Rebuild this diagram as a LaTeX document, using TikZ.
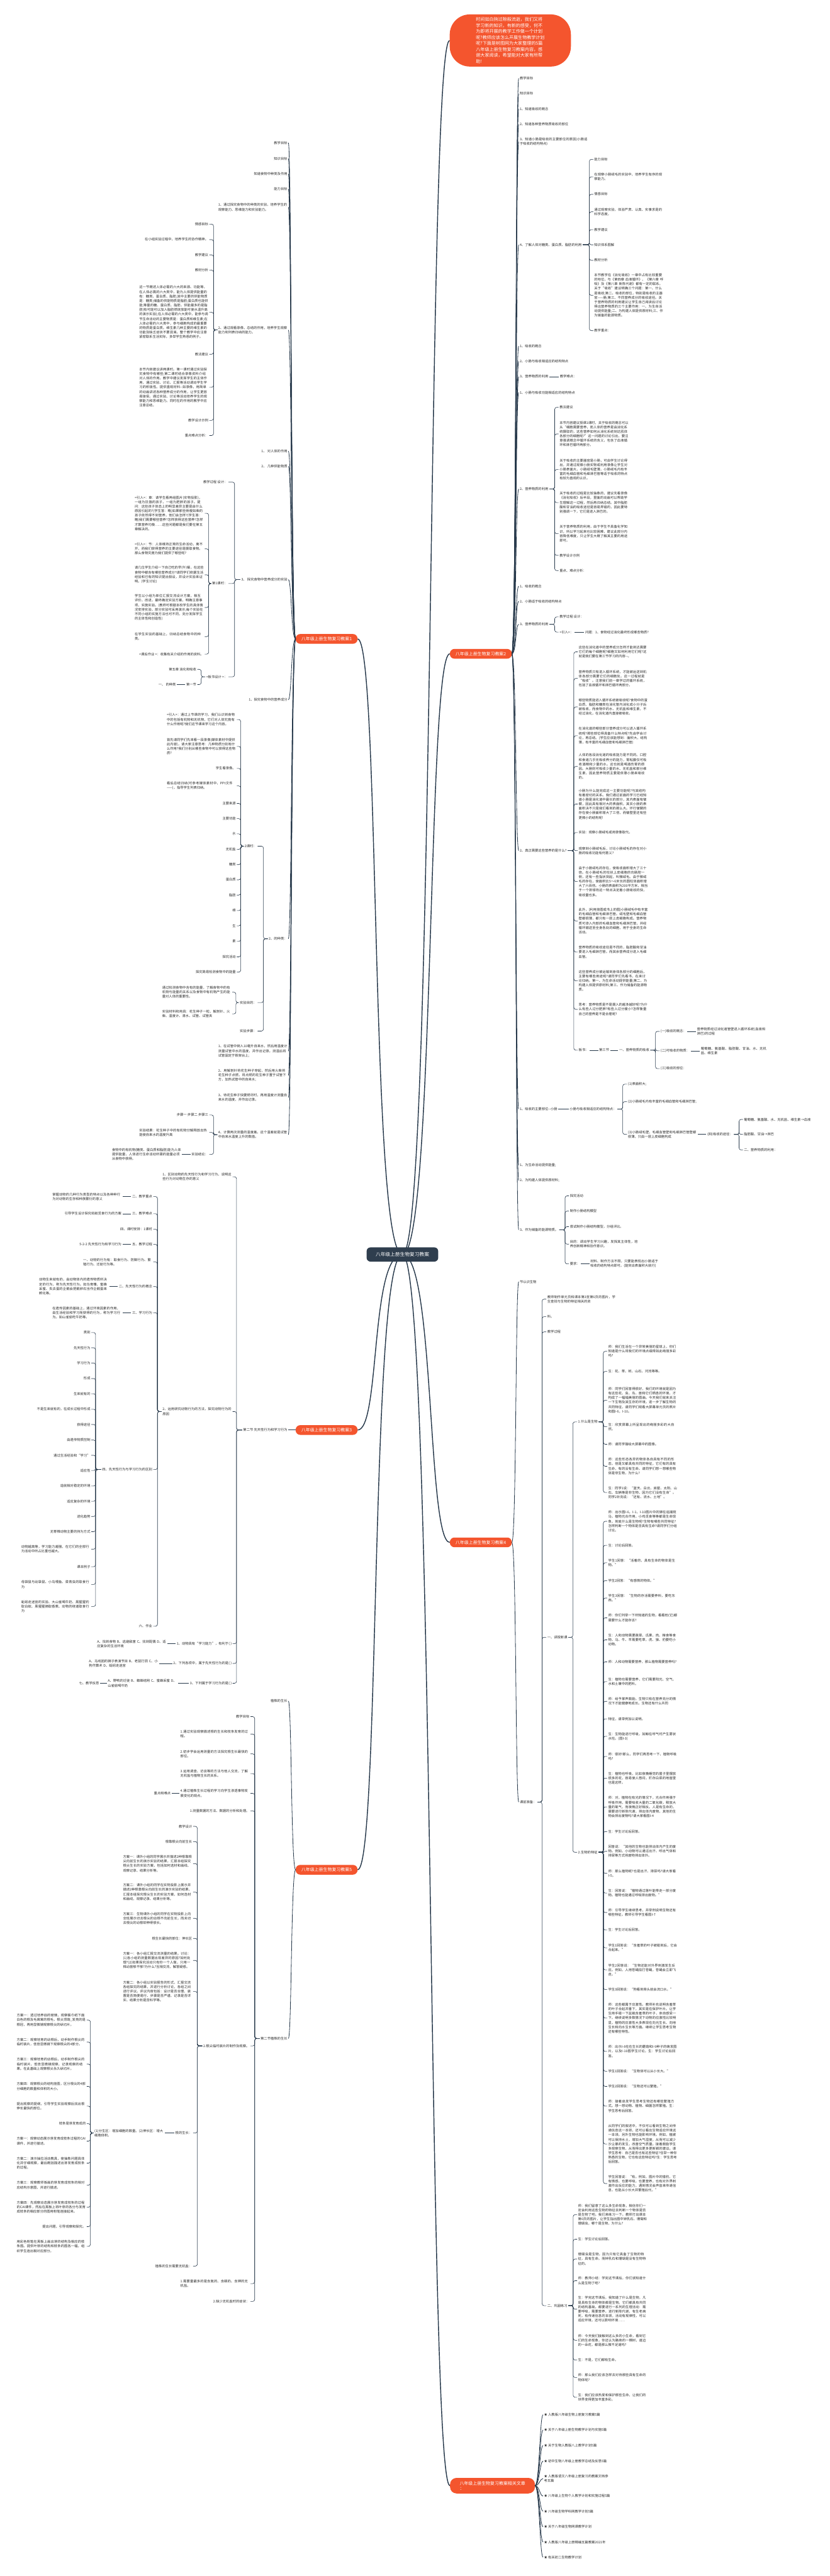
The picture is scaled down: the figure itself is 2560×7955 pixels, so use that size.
\documentclass[tikz,border=0pt]{standalone}
\usepackage{fontspec}
\setmainfont{Noto Sans CJK SC}
\usetikzlibrary{backgrounds}
\XeTeXlinebreaklocale "zh"
\XeTeXlinebreakskip = 0pt plus 1pt
\definecolor{lnc}{HTML}{26384A}
\definecolor{txc}{HTML}{2A2A2A}
\definecolor{orc}{HTML}{F4552E}
\definecolor{rtc}{HTML}{2F3E4E}
\tikzset{
 lab/.style={font=\fontsize{10.3}{13.9}\selectfont, text=txc, inner xsep=3pt, inner ysep=1.5pt},
 lleaf/.style={lab, anchor=east, align=right},
 lpara/.style={lab, anchor=east, text width=213pt, align=left},
 rleaf/.style={lab, anchor=west, align=left},
 rpara/.style={lab, anchor=west, text width=213pt, align=left},
 conn/.style={draw=lnc, line width=1.2pt, rounded corners=6pt},
 mainc/.style={draw=lnc, line width=1.6pt},
 rootc/.style={draw=lnc, line width=2.8pt},
 branch/.style={fill=orc, text=white, rounded corners=14pt, minimum width=191pt, minimum height=30pt, font=\fontsize{13.5}{16}\selectfont, inner xsep=10pt},
}
\newcommand\mLN[4]{\node[lleaf] (#1) at (#2,#3) {#4};}
\newcommand\mLP[4]{\node[lpara] (#1) at (#2,#3) {#4};}
\newcommand\mRN[4]{\node[rleaf] (#1) at (#2,#3) {#4};}
\newcommand\mRP[4]{\node[rpara] (#1) at (#2,#3) {#4};}
\newcommand\cLC[3]{\draw[conn] (#1.west) -- (#3,0 |- #1.west) |- (#2.east);}
\newcommand\cRC[3]{\draw[conn] (#1.east) -- (#3,0 |- #1.east) |- (#2.west);}
\newcommand\cCL[2]{\draw[conn] (#1.west) -- (#2.east);}
\newcommand\cCR[2]{\draw[conn] (#1.east) -- (#2.west);}
\newcommand\cLM[2]{\draw[mainc] (#1.west) .. controls +(-14,0) and +(10,0) .. (#2.east);}
\newcommand\cRM[2]{\draw[mainc] (#1.east) .. controls +(14,0) and +(-10,0) .. (#2.west);}
\begin{document}
\begin{tikzpicture}[x=1pt,y=-1pt]
\useasboundingbox (0,0) rectangle (2560,7955);
% ---------- central and branch nodes ----------
\node[fill=rtc, text=white, rounded corners=12pt, minimum height=44pt, inner xsep=28pt, font=\fontsize{15}{18}\selectfont] (R) at (1242,3874) {八年级上册生物复习教案};
\node[fill=orc, text=white, rounded corners=62pt, minimum width=374pt, minimum height=161pt, align=left, font=\fontsize{13.7}{18.6}\selectfont] (BB) at (1575,125) {时间如白驹过隙般流逝，我们又将\\学习新的知识，有新的感受，何不\\为即将开展的教学工作做一个计划\\呢?教师应该怎么开展生物教学计划\\呢?下面是树图网为大家整理的5篇\\八年级上册生物复习教案内容，感\\谢大家阅读，希望能对大家有所帮\\助!};
\node[branch] (B1) at (1008,1973) {八年级上册生物复习教案1};
\node[branch] (B3) at (1008,4416) {八年级上册生物复习教案3};
\node[branch] (B5) at (1008,5774) {八年级上册生物复习教案5};
\node[branch] (B2) at (1484,2019) {八年级上册生物复习教案2};
\node[branch] (B4) at (1484,4763) {八年级上册生物复习教案4};
\node[branch, minimum width=262pt, minimum height=48pt, align=left, rounded corners=20pt] (B6) at (1520,7676) {八年级上册生物复习教案相关文章\\：};

% ================= 教案1 =================
\mLN{a1}{890}{441}{教学目标}
\mLN{a2}{890}{490}{知识目标}
\mLN{a3}{890}{537}{知道食物中种类及作用}
\mLN{a4}{890}{584}{能力目标}
\mLP{a5}{890}{640}{1、通过探究食物中的种类的实验，培养学生的观察能力、思维能力和实验能力。}
\mLP{a6}{890}{1019}{2、通过观看录像，总结的作用，培养学生观察能力和列表归纳的能力。}
\mLN{a7}{890}{1393}{1、 对人体的作用}
\mLN{a8}{890}{1440}{2、 几种供能物质}
\mLN{a9}{890}{1790}{3、 探究食物中营养成分的实验}
\mLN{a10}{890}{2161}{1、探究食物中的营养成分}
\mLN{a11}{890}{2899}{2、的种类：}
\mLP{a12}{890}{3246}{1、在试管中倒入10毫升自来水，然后用温度计测量试管中水的温度，并作出记录。测温后将试管固定于铁架台上;}
\mLP{a13}{890}{3321}{2、用解剖针将花生种子穿起，然后用火柴将花生种子点燃，将点燃的花生种子置于试管下方，加热试管中的自来水;}
\mLP{a14}{890}{3389}{3、待花生种子快要燃尽时，再用温度计测量自来水的温度，并作出记录。}
\mLP{a15}{890}{3504}{4、计算两次测量的温度差。这个温差就是试管中自来水温度上升的数值。}
\foreach \i in {1,...,15} {\cLM{B1}{a\i}}

\mLN{b1}{646}{692}{情感目标}
\mLN{b2}{646}{740}{在小组实验过程中，培养学生的协作精神。}
\mLN{b3}{646}{787}{教学建议}
\mLN{b4}{646}{834}{教材分析}
\mLP{b5}{646}{964}{这一节概述人体必需的六大的来源、功能等，在人体必需的六大类中，能为人体提供能量的有：糖类、蛋白质、脂肪;其中主要的供能物质是：糖类;储备的供能物质是脂肪;蛋白质也能供能;等量的糖、蛋白质、脂肪，供能最多的是脂肪(有可能可以加入脂肪燃烧放能可使水温升高的演示实验);在人体必需的六大类中，能参与调节生命活动的主要物质是：蛋白质和维生素;在人体必需的六大类中，参与细胞构成的最重要的物质是蛋白质。维生素几种主要的维生素的功能及缺乏症状不要混淆。整个教学中应注意紧密联系生活实际，多举学生熟悉的例子。}
\mLN{b6}{646}{1094}{教法建议}
\mLP{b7}{646}{1196}{本节内容建议讲两课时。第一课时通过实验探究食物中有哪些;第二课时结合录像资料介绍对人体的作用。教学中建议发挥学生的主体作用，通过实验、讨论、汇报等活动调动学生学习的积极性。提供直观材料-{}-如录像，用简单的动画讲述各种营养成分的作用，让学生更容易接受。通过实验、讨论等活动培养学生的观察能力和思维能力。同时在的作用的教学中应注意总结。}
\mLN{b8}{646}{1298}{教学设计示例}
\mLN{b9}{646}{1345}{重点难点分析：}
\foreach \i in {1,...,9} {\cLC{a6}{b\i}{659}}

\mLN{c1}{705}{1489}{教学过程 设计：}
\mLN{c2}{705}{1802}{第1课时：}
\mLN{c3}{705}{2090}{<板书设计 >：}
\foreach \i in {1,2,3} {\cLC{a9}{c\i}{724}}

\mLP{d1}{632}{1585}{<引入>：章：请学生看两组图片(实物投影)，一组为饥饿的孩子，一组为肥胖的孩子。提问：这些孩子体态上的明显差异主要是由什么原因引起的?(学生答：略)如果那些骨瘦如柴的孩子依然得不到营养，他们会怎样?(学生答：略)我们需要哪些营养?怎样获得这些营养?怎样才算营养均衡……这些问题都是我们要在第五章解决的。}
\mLP{d2}{632}{1695}{<引入>：节：人体维持正常的生命活动，离不开，而我们获得营养的主要途径是摄取食物。那么食物究竟为我们提供了哪些呢?}
\mLP{d3}{632}{1775}{请几位学生介绍一下自己吃的早(午)餐，在这些食物中都含有哪些营养成分?请同学们依据生活经验和已有的知识提出假设，并设计实验来证明。(学生讨论)}
\mLP{d4}{632}{1876}{学生以小组为单位汇报交流设计方案，相互评价、改进，最终确定实验方案，明确注意事项，实施实验。(教师可根据本校学生的具体情况安排实验，部分实验可采用演示;每个实验在不同小组的实施方法也可不同，充分发挥学生的主体性和创造性)}
\mLP{d5}{632}{1966}{在学生实验的基础上，归纳总结食物中的种类。}
\mLN{d6}{632}{2020}{<课后作业 >：收集有关介绍的作用的资料。}
\foreach \i in {1,...,6} {\cLC{c2}{d\i}{644}}

\mLN{e1}{609}{2067}{第五章 消化和吸收}
\mLN{e2}{609}{2114}{第一节}
\mLN{e3}{546}{2114}{一、 的种类}
\cLC{c3}{e1}{621}
\cLC{c3}{e2}{621}
\cCL{e2}{e3}

\mLN{f1}{795}{2613}{2课时：}
\mLN{f2}{795}{3096}{实验目的：}
\mLN{f3}{795}{3184}{实验步骤：}
\foreach \i in {1,2,3} {\cLC{a11}{f\i}{813}}

\mLP{g1}{731}{2222}{<引入>：通过上节课的学习，我们认识到食物中的包括有机物和无机物，它们对人体究竟有什么作用呢?我们这节课来学习这个内容。}
\mLP{g2}{731}{2305}{首先请同学们先来看一段录像(媒体素材中提供此内容)，请大家注意思考：几种物质分别有什么作用?我们分别从哪些食物中可以获得这些物质?}
\mLN{g3}{731}{2373}{学生看录像。}
\mLP{g4}{731}{2427}{看后总结归纳(可参考媒体素材中，PPt文件——)，指导学生列表归纳。}
\mLN{g5}{731}{2481}{主要来源}
\mLN{g6}{731}{2528}{主要功能}
\mLN{g7}{731}{2575}{水}
\mLN{g8}{731}{2623}{无机盐}
\mLN{g9}{731}{2670}{糖类}
\mLN{g10}{731}{2717}{蛋白质}
\mLN{g11}{731}{2764}{脂肪}
\mLN{g12}{731}{2812}{维}
\mLN{g13}{731}{2859}{生}
\mLN{g14}{731}{2907}{素}
\mLN{g15}{731}{2955}{探究活动}
\mLN{g16}{731}{3002}{探究简易检测食物中的能量}
\foreach \i in {1,...,16} {\cLC{f1}{g\i}{743}}

\mLP{h1}{717}{3064}{通过检测食物中含有的能量，了解食物中的有机物与能量的关系以及食物中有机物产生的能量对人体的重要性。}
\mLP{h2}{717}{3131}{实验材料和用具：花生种子一粒、解剖针、火柴、温度计、清水、试管、试管夹}
\cLC{f2}{h1}{728}
\cLC{f2}{h2}{728}

\mLN{i1}{646}{3443}{步骤一 步骤二 步骤三}
\mLP{i2}{646}{3497}{实验结果：花生种子中的有机物分解释放出热能使自来水的温度升高}
\mLN{i3}{646}{3565}{实验结论：}
\mLP{i4}{562}{3565}{食物中的有机物(糖类、蛋白质和脂肪)能为人体提供能量，人体进行生命活动所需的能量必须从食物中获得。}
\foreach \i in {1,2,3} {\cLC{a15}{i\i}{659}}
\cCL{i3}{i4}

% ================= 教案3 =================
\mLN{j0}{890}{4416}{第二节 先天性行为和学习行为}
\cLM{B3}{j0}
\mLP{j1}{718}{3634}{1、区别动物的先天性行为和学习行为，说明这些行为对动物生存的意义}
\mLP{j2}{718}{4359}{2、运用研究动物行为的方法，探究动物行为的原因}
\mLN{j3}{718}{5076}{1、动物具有“学习能力”，有利于( )}
\mLN{j4}{718}{5137}{2、下列各项中，属于先天性行为的是( )}
\mLN{j5}{718}{5198}{3、下列属于学习行为的是( )}
\foreach \i in {1,...,5} {\cLC{j0}{j\i}{730}}

\mLN{k1}{473}{3695}{二、教学重点}
\mLP{k1a}{378}{3695}{掌握动物的几种行为类型的特点以及各种种行为对动物的生存和种族繁衍的意义}
\mLN{k2}{473}{3748}{三、教学难点}
\mLN{k2a}{378}{3748}{引导学生设计探究蚂蚁觅食行为的方案}
\mLN{k3}{473}{3796}{四、课时安排：1课时}
\mLN{k4}{473}{3843}{五、教学过程}
\mLN{k4a}{378}{3843}{5-2-2 先天性行为和学习行为}
\mLP{k5}{473}{3897}{一、动物的行为有：取食行为、防御行为、繁殖行为、迁徙行为等。}
\mLN{k6}{473}{3973}{二、先天性行为的概念}
\mLP{k6a}{337}{3973}{动物生来就有的，由动物体内的遗传物质所决定的行为，称为先天性行为。如鸟育雏、蜜蜂采蜜、失去蛋的企鹅会把鹅卵石当作企鹅蛋来孵化等。}
\mLN{k7}{473}{4054}{三、学习行为}
\mLP{k7a}{378}{4054}{在遗传因素的基础上，通过环境因素的作用，由生活经验和学习而获得的行为，称为学习行为。如山雀偷吃牛奶等。}
\mLN{k8}{473}{4538}{四、先天性行为与学习行为的区别}
\mLN{k9}{473}{5022}{六、作业}
\foreach \i in {1,...,9} {\cLC{j2}{k\i}{486}}
\cCL{k1}{k1a}
\cCL{k2}{k2a}
\cCL{k4}{k4a}
\cCL{k6}{k6a}
\cCL{k7}{k7a}

\mLN{l1}{282}{4115}{类别}
\mLN{l2}{282}{4162}{先天性行为}
\mLN{l3}{282}{4209}{学习行为}
\mLN{l4}{282}{4257}{形成}
\mLN{l5}{282}{4304}{生来就有的}
\mLN{l6}{282}{4352}{不是生来就有的，在成长过程中形成}
\mLN{l7}{282}{4399}{获得途径}
\mLN{l8}{282}{4447}{由遗传物质控制}
\mLN{l9}{282}{4494}{通过生活经验和“学习”}
\mLN{l10}{282}{4541}{适应性}
\mLN{l11}{282}{4589}{造就相对稳定的环境}
\mLN{l12}{282}{4636}{适应复杂的环境}
\mLN{l13}{282}{4683}{进化趋势}
\mLN{l14}{282}{4730}{无脊椎动物主要的持为方式}
\mLP{l15}{282}{4784}{动物越高等，学习能力越强，在它们的全部行为活动中所占比重也越大。}
\mLN{l16}{282}{4838}{课本例子}
\mLP{l17}{282}{4893}{母袋鼠与幼袋鼠、小鸟喂鱼、菜青虫的取食行为}
\mLP{l18}{282}{4961}{蚯蚓走迷宫的实验、大山雀喝牛奶、黑猩猩钓取白蚁、黑猩猩摘取香蕉、动物的绕道取食行为}
\foreach \i in {1,...,18} {\cLC{k8}{l\i}{295}}

\mLP{m3}{516}{5076}{A、找到食物 B、逃避敌害 C、找到配偶 D、适应复杂的生活环境}
\mLP{m4}{491}{5137}{A、马戏团的狮子表演节目 B、老鼠打洞 C、小狗作算术 D、蚯蚓走迷宫}
\mLP{m5}{549}{5198}{A、野鸭的迁徙 B、蜘蛛结网 C、蜜蜂采蜜 D、山雀偷喝牛奶}
\mLN{m6}{309}{5198}{七、教学反思}
\cCL{j3}{m3}
\cCL{j4}{m4}
\cCL{j5}{m5}
\cCL{m5}{m6}

% ================= 教案5 =================
\mLN{n1}{890}{5253}{植株的生长}
\mLN{n2}{890}{6295}{第二节植株的生长}
\cLM{B5}{n1}
\cLM{B5}{n2}
\mLN{o1}{773}{5301}{教学目标}
\mLP{o2}{773}{5355}{1.通过实验观察描述根的生长和枝条发育的过程。}
\mLP{o3}{773}{5416}{2.初步学会运用测量的方法探究根生长最快的部位。}
\mLP{o4}{773}{5477}{3.运用调查、访谈等的方法与他人交流，了解无机盐与植物生长的关系。}
\mLP{o5}{773}{5538}{4.通过植株生长过程的学习向学生渗透事物发展变化的观点。}
\mLN{o5a}{530}{5538}{重点和难点}
\mLN{o6}{773}{5592}{1.测量数据的方法、数据的分析和处理。}
\mLN{o7}{773}{6318}{2.根尖临时装片的制作及观察。}
\mLP{o8}{773}{7052}{1.需要量最多的是含氮的、含磷的、含钾的无机盐。}
\mLN{o9}{773}{7107}{2.缺少无机盐时的症状：}
\foreach \i in {1,...,9} {\cLC{n2}{o\i}{786}}
\cCL{o5}{o5a}

\mLN{p1}{596}{5640}{教学设计}
\mLN{p2}{596}{5687}{根靠根尖向前生长}
\mLP{p3}{596}{5755}{方案一：课外小组的同学展示并描述2种根靠根尖向前生长的演示实验的结果，汇报本组探究根尖生长的实验方案，包括如何选材和画线、观察记录、结果分析等。}
\mLP{p4}{596}{5843}{方案二：课外小组的同学在实物投影上展示并描述2种根靠根尖向前生长的演示实验的结果，汇报本组探究根尖生长的实验方案，如何选材和画线，观察记录、结果分析等。}
\mLP{p5}{596}{5924}{方案三：生物课外小组的同学在实物投影上向全班展示切去根尖的幼根不向前生长，而未切去根尖的幼根却伸得很长。}
\mLN{p6}{596}{5986}{根生长最快的部位：伸长区}
\mLP{p7}{596}{6054}{方案一：各小组汇报交流测量的结果。讨论：(1)各小组的测量数据出现差异的原因?如何处理?(2)如果探究活动只有你一个人做，只用一株幼苗够不够?为什么?互相交流，解答疑惑。}
\mLP{p8}{596}{6150}{方案二：各小组以实验报告的形式，汇报交流各组探究的结果，并进行分析讨论，各组之间进行评议。评议内容包括：设计是否合理、装置是否简便易行、步骤是否严谨、记录是否详实、结果分析是否科学等。}
\mLN{p9}{596}{6587}{根的生长：}
\mLN{p10}{596}{6998}{植株的生长需要无机盐：}
\foreach \i in {1,...,10} {\cLC{o7}{p\i}{609}}
\mLP{p9a}{508}{6587}{(1)分生区：增加细胞的数量。(2)伸长区：增大细胞体积。}
\cCL{p9}{p9a}

\mLP{q1}{268}{6238}{方案一：透过培养皿的玻璃，观察餐巾纸下面白色的根及毛茸茸的根毛，根尖顶端\_发亮的是根冠，再用显微镜观察根尖的纵切片。}
\mLP{q2}{268}{6306}{方案二：观察培育的幼根后，动手制作根尖的临时装片，低倍显微镜下观察根尖的4部分。}
\mLP{q3}{268}{6374}{方案三：观察培育的幼根后，动手制作根尖的临时装片，低倍显微镜观察，记录观察的结果。在此基础上观察根尖永久纵切片。}
\mLP{q4}{268}{6443}{方案四：观察根尖的结构挂图，区分根尖的4部分细胞的数量和体积的大小。}
\mLP{q5}{268}{6504}{提出观察的提纲，引导学生实验观察后找出根伸长最快的部位。}
\mLN{q6}{268}{6558}{枝条是芽发育成的}
\mLP{q7}{268}{6612}{方案一：观察动态展示芽发育成枝条过程的CAI课件，并进行描述。}
\mLP{q8}{268}{6680}{方案二：演示抽拉活动教具，使抽象问题具体化并仔细观察，最后概括描述出芽发育成枝条的过程。}
\mLP{q9}{268}{6748}{方案三：观察教师板画的芽发育成枝条的相对应结构示意图，并进行描述。}
\mLP{q10}{268}{6816}{方案四：先观察动态展示芽发育成枝条的过程的CAI课件，然后在黑板上将叶芽的各分与发育成枝条的相应部分的图用粉笔连接起来。}
\mLN{q11}{268}{6876}{提出问题，引导观察和探究。}
\mLP{q12}{268}{6937}{用彩色粉笔在黑板上画出芽的结构及相应的枝条图。提供叶芽的结构和枝条的图各一幅，组织学生连出相对应部分。}
\foreach \i in {1,...,12} {\cLC{p9a}{q\i}{279}}

% ================= 教案2 =================
\mRN{r1}{1601}{242}{教学目标}
\mRN{r2}{1601}{289}{知识目标}
\mRN{r3}{1601}{336}{1、知道吸收的概念}
\mRN{r4}{1601}{384}{2、知道各种营养物质吸收的部位}
\mRP{r5}{1601}{438}{3、知道小肠是吸收的主要部位的原因(小肠适于吸收的结构特点)}
\mRN{r6}{1601}{756}{4、了解人体对糖类、蛋白质、脂肪的利用}
\mRN{r7}{1601}{1069}{1、吸收的概念}
\mRN{r8}{1601}{1116}{2、小肠与吸收相适应的结构特点}
\mRN{r9}{1601}{1163}{3、营养物质的利用}
\mRN{r10}{1601}{1212}{1、小肠与吸收功能相适应的结构特点}
\mRN{r11}{1601}{1510}{2、营养物质的利用}
\mRN{r12}{1601}{1810}{1、吸收的概念}
\mRN{r13}{1601}{1857}{2、小肠适于吸收的结构特点}
\mRN{r14}{1601}{1928}{3、营养物质的利用}
\mRN{r15}{1601}{2627}{2、真正需要这些营养的是什么?}
\mRN{r16}{1601}{3425}{1、吸收的主要部位-{}-小肠}
\mRN{r17}{1601}{3598}{1、为生命活动提供能量;}
\mRN{r18}{1601}{3645}{2、为构建人体提供原材料;}
\mRN{r19}{1601}{3798}{3、作为储备的能源物质。}
\foreach \i in {1,...,19} {\cRM{B2}{r\i}}
\mRN{r9a}{1725}{1163}{教学难点：}
\cCR{r9}{r9a}

\mRN{s1}{1831}{492}{能力目标}
\mRP{s2}{1831}{546}{在观察小肠绒毛的实验中，培养学生有序的观察能力。}
\mRN{s3}{1831}{600}{情感目标}
\mRP{s4}{1831}{654}{通过观察实验，体验严肃、认真、实事求是的科学态度。}
\mRN{s5}{1831}{709}{教学建议}
\mRN{s6}{1831}{756}{知识体系图解}
\mRN{s7}{1831}{804}{教材分析}
\mRP{s8}{1831}{912}{本节教学在《消化吸收》一章中占有比较重要的地位，与《第四章 血液循环》、《第六章 呼吸》及《第八章 新陈代谢》都有一定的联系。关于“吸收”建议明确三个问题：第一、什么是吸收;第二、吸收的部位，特别是吸收的主器官——肠;第三、不同营养成分的吸收途径。关于营养物质的利用建议让学生自己阅读后讨论得出营养物质的三个主要作用：一、为生命活动提供能量;二、为构建人体提供原材料;三、作为储备的能源物质。}
\mRN{s9}{1831}{1021}{教学重点：}
\foreach \i in {1,...,9} {\cRC{r6}{s\i}{1819}}

\mRN{t1}{1724}{1258}{教法建议}
\mRP{t2}{1724}{1340}{本节内容建议授课1课时，关于吸收的概念可以从“细胞需要营养，而人体的营养是由消化系统摄取的，这些营养如何从消化系统到达肌体各部分的细胞呢?”这一问题的讨论引出，要注意强调概念中循环系统的含义，包含了血液循环和淋巴循环两部分。}
\mRP{t3}{1724}{1450}{关于吸收的主要器官是小肠，可由学生讨论得出，并通过观察小肠实物或利用录像让学生对小肠表面大，小肠绒毛壁薄，小肠绒毛内有丰富的毛细血管和毛细淋巴管等适于吸收的特点有较为直观的认识。}
\mRP{t4}{1724}{1552}{关于吸收的过程是比较抽象的，建议先看录像《消化吸收》后半段，里面的动画可以帮助学生理解这一过程，然后再归纳总结。其中脂肪酸和甘油的吸收途径是容易弄错的，因此要特别强调一下，它们是进入淋巴的。}
\mRP{t5}{1724}{1648}{关于营养物质的利用，由于学生不具备化学知识，所以学习起来也比较困难，建议此部分内容降低难度，只让学生大概了解其主要的用途即可。}
\mRN{t6}{1724}{1715}{教学设计示例}
\mRN{t7}{1724}{1762}{重点、难点分析：}
\foreach \i in {1,...,7} {\cRC{r11}{t\i}{1712}}

\mRN{u1}{1724}{1905}{教学过程 设计：}
\mRN{u2}{1724}{1952}{<引入>：}
\mRN{u2a}{1803}{1952}{问题：1、食物经过消化最终形成哪些物质?}
\cRC{r14}{u1}{1712}
\cRC{r14}{u2}{1712}
\cCR{u2}{u2a}

\mRP{v1}{1783}{2013}{这些在消化道中的营养成分怎样才能到达需要它们的每个细胞呢?细胞又如何利用它们呢?这就是我们要在第三节学习的内容-{}-。}
\mRP{v2}{1783}{2095}{营养物质只有进入循环系统，才能被运送到机体各部分需要它们的细胞处，这一过程就是“吸收”。注意我们前一章学过的循环系统，包括了血液循环和淋巴循环两部分。}
\mRP{v3}{1783}{2183}{哪些物质能进入循环系统被吸收呢?食物中的蛋白质、脂肪和糖类在消化管内消化成小分子后被吸收，而食物中的水、无机盐和维生素，不经过消化，在消化道内直接被吸收。}
\mRP{v4}{1783}{2272}{在消化道的哪些部分营养成分可以进入循环系统呢?那些部位得具备什么特点呢?先由学会讨论，再总结。(学生应该能想到：面积大，结构薄，有丰富的毛细血管和毛细淋巴管)}
\mRP{v5}{1783}{2367}{人体的各段消化道的吸收能力是不同的。口腔和食道几乎无吸收养分的能力，胃粘膜仅可吸收酒精和少量的水。这也就是喝酒伤胃的原因。大肠则可吸收少量的水、无机盐和部分维生素，因此营养物质主要是依靠小肠来吸收的。}
\mRP{v6}{1783}{2483}{小肠为什么能完成这一主要功能呢?与其结构有着密切的关系。我们通过前面的学习已经知道小肠是消化道中最长的部分，其内表面有皱襞，因此具有相对大的表面积。其实小肠的表面积决不只是我们看到的那么大。环行皱襞的存在使小肠面积增大了三倍，而皱壁里还有些更微小的结构呢!}
\mRN{v7}{1783}{2571}{实验：观察小肠绒毛或用录像取代。}
\mRP{v8}{1783}{2627}{观察到小肠绒毛后，讨论小肠绒毛的存在对小肠的吸收功能有何意义?}
\mRP{v9}{1783}{2722}{由于小肠绒毛的存在，使吸收面积增大了三十倍。在小肠绒毛的柱状上皮细胞的向肠腔一侧，还有一些指状突起，叫微绒毛。由于微绒毛的存在，使面积比5～6米长的圆柱体面积增大了六百倍。小肠的表面积为200平方米，相当于一个排球场这一特点决定着小肠吸收的快，吸收量也多。}
\mRP{v10}{1783}{2844}{此外，(利用挂图或书上的图)小肠绒毛中有丰富的毛细血管和毛细淋巴管。绒毛壁和毛细血管壁都很薄，都只有一层上皮细胞构成。营养物质可渗入内部的毛细血管和毛细淋巴管，并经循环输送至全身各处的细胞，用于全身的生命活动。}
\mRP{v11}{1783}{2940}{营养物质的吸收途径是不同的，脂肪酸和甘油要进入毛细淋巴管。而其余营养成分进入毛细血管。}
\mRP{v12}{1783}{3029}{这些营养成分被运输到身体各部分的细胞后，主要有哪些用途呢?请同学们先看书，在来讨论归纳。第一、为生命活动提供能量;第二、为构建人体提供原材料;第三、作为储备的能源物质。}
\mRP{v13}{1783}{3117}{思考：营养物质是不是摄入的越多越好呢?为什么有些人过分肥胖?有些人过分瘦小?怎样衡量自己的营养是不是合理呢?}
\mRN{v14}{1783}{3243}{板书：}
\foreach \i in {1,...,14} {\cRC{r15}{v\i}{1771}}
\mRN{v14a}{1846}{3243}{第三节}
\mRN{v14b}{1908}{3243}{一、营养物质的吸收}
\cCR{v14}{v14a}
\cCR{v14a}{v14b}
\mRN{w1}{2036}{3185}{(一)吸收的概念：}
\mRN{w2}{2036}{3245}{(二)可吸收的物质：}
\mRN{w3}{2036}{3300}{(三)吸收的部位：}
\foreach \i in {1,2,3} {\cRC{v14b}{w\i}{2023}}
\mRP{w1a}{2148}{3185}{营养物质经过消化道管壁进入循环系统(血液和淋巴)的过程}
\mRP{w2a}{2160}{3245}{葡萄糖、氨基酸、脂肪酸、甘油、水、无机盐、维生素}
\cCR{w1}{w1a}
\cCR{w2}{w2a}

\mRN{r16a}{1755}{3425}{小肠与吸收相适应的结构特点：}
\cCR{r16}{r16a}
\mRN{x1}{1935}{3348}{(1)表面积大;}
\mRP{x2}{1935}{3402}{(2)小肠绒毛内有丰富的毛细血管和毛细淋巴管;}
\mRP{x3}{1935}{3503}{(3)小肠绒毛壁、毛细血管壁和毛细淋巴管壁都很薄，只由一层上皮细胞构成}
\foreach \i in {1,2,3} {\cRC{r16a}{x\i}{1922}}
\mRN{x3a}{2180}{3503}{(四)吸收的途径：}
\cCR{x3}{x3a}
\mRN{y1}{2293}{3457}{葡萄糖、氨基酸、水、无机盐、维生素→血液}
\mRN{y2}{2293}{3503}{脂肪酸、甘油→淋巴}
\mRN{y3}{2293}{3551}{二、营养物质的利用：}
\foreach \i in {1,2,3} {\cRC{x3a}{y\i}{2281}}

\mRN{z1}{1756}{3693}{探究活动}
\mRN{z2}{1756}{3740}{制作小肠结构模型}
\mRN{z3}{1756}{3788}{尝试制作小肠结构模型，分组评比。}
\mRP{z4}{1756}{3842}{目的：调动学生学习兴趣，发挥其主体性，培养创新精神和协作意识。}
\mRN{z5}{1756}{3903}{要求：}
\foreach \i in {1,...,5} {\cRC{r19}{z\i}{1744}}
\mRP{z5a}{1819}{3903}{材料、制作方法不限，只要能表现出小肠适于吸收的结构特点即可。(能突出表面积大就行)}
\cCR{z5}{z5a}

% ================= 教案4 =================
\mRN{R1}{1601}{3958}{节认识生物}
\mRN{R2}{1601}{5565}{课前准备：}
\cRM{B4}{R1}
\cRM{B4}{R2}
\mRP{S1}{1686}{4012}{教师制作单元页和课本第3至第6页的图片，学生查找与生物的特征相关的资}
\mRN{S2}{1686}{4066}{料。}
\mRN{S3}{1686}{4113}{教学过程}
\mRN{S4}{1686}{5056}{一、讲授新课}
\mRN{S5}{1686}{7120}{二、巩固练习}
\foreach \i in {1,...,5} {\cRC{R2}{S\i}{1673}}
\mRN{T1}{1781}{4391}{1.什么是生物}
\mRN{T2}{1781}{5720}{2.生物的特征}
\cRC{S4}{T1}{1768}
\cRC{S4}{T2}{1768}

\mRP{U1}{1874}{4173}{师：我们生活在一个异常美丽的星球上，你们知道是什么将我们的环境点缀得如此绚丽多彩吗?}
\mRN{U2}{1874}{4235}{生：花、草、树、山石、河流等等。}
\mRP{U3}{1874}{4324}{师：同学们回答得很好，我们的环境就是因为有这些花、虫、鸟、兽和它们栖息的环境，才构成了一幅幅美丽的图画。今天我们就来关注一下生物及其生存的环境，进一步了解生物的共同特征，请同学们观看大屏幕单元页的照片和图I-6，I-10。}
\mRP{U4}{1874}{4406}{生：欣赏屏幕上所呈现出的绚丽多彩的大自然。}
\mRN{U5}{1874}{4460}{师：请同学描绘大屏幕中的图像。}
\mRP{U6}{1874}{4528}{师：这些形态各异的物体各自具有不同的形态，但是又都具有共同的特征，它们有的具有生命，有的没有生命。请同学们想一想哪些物体是非生物，为什么?}
\mRP{U7}{1874}{4609}{生：同学1说：“蓝天、白云、房屋、太阳、山石、车辆等是非生物，因为它们没有生命”。同学2补充说：“还有、流水、土地”。}
\foreach \i in {1,...,7} {\cRC{T1}{U\i}{1862}}

\mRP{V1}{1874}{4698}{师：出示图I-6，I-1，I-10图片中的狮在追捕斑马，植物光合作用，小鸡觅食等等都是生命现象，到底什么是生物呢?生物有哪些共同特征?怎样判断一个物体是否具有生命?请同学们分组讨论。}
\mRN{V2}{1874}{4772}{生：讨论后回答。}
\mRP{V3}{1874}{4826}{学生1回答：“活着的，具有生命的物体是生物。”}
\mRN{V4}{1874}{4881}{学生2回答：“有感情的物体。”}
\mRP{V5}{1874}{4935}{学生3回答：“生物的存活需要养料，要吃东西。”}
\mRP{V6}{1874}{4996}{师：你们列举一下所知道的生物，看看他(它)都需要什么才能存活?}
\mRP{V7}{1874}{5064}{生：人和动物需要蔬菜、瓜果、肉、粮食等食物，马、牛、羊需要吃草，虎、狼、豹要吃小动物。}
\mRP{V8}{1874}{5132}{师：人和动物需要营养，那么植物需要营养吗?}
\mRP{V9}{1874}{5193}{生：植物也需要营养，它们需要阳光、空气、水和土壤中的肥料。}
\mRP{V10}{1874}{5254}{师：给予掌声鼓励。生物只有在营养充分的情况下才能健康地成长。生物还有什么共同}
\mRN{V11}{1874}{5308}{特征，请举例加以说明。}
\mRP{V12}{1874}{5362}{生：生物能进行呼吸，如鲸在呼气时产生雾状水柱。(图I-3)}
\mRP{V13}{1874}{5424}{师：很好!那么，同学们再思考一下，植物呼吸吗?}
\mRP{V14}{1874}{5491}{生：植物也呼吸，比如夜晚睡觉的屋子里摆放很多的花，容易使人憋闷，贮存白菜的地窖里也是这样。}
\mRP{V15}{1874}{5580}{师：对，植物在有光的情况下，光合作用强于呼吸作用，需要吸收大量的二氧化碳，释放大量的氧气，而夜晚正好相反。人是有生命的，需要进行新陈代谢，排出体内废物，其他的生物会排出废物吗?请大家看图I-4}
\mRN{V16}{1874}{5656}{生：学生讨论后回答。}
\mRP{V17}{1874}{5717}{回答说：“其他的生物也能排出体内产生的废物。例如，小动物可以通过出汗、呼出气体和排尿等方式将废物排出体外。}
\mRP{V18}{1874}{5785}{师：那么植物呢?也是出汗、排尿吗?请大家看I-5。}
\mRP{V19}{1874}{5846}{生：回答说：“植物通过落叶能带走一部分废物。植物也能通过呼吸排出废物。”}
\mRP{V20}{1874}{5906}{师：引导学生继续思考，并举例说明生物还有哪些特征。教师引导学生看图I-7}
\mRN{V21}{1874}{5960}{生：学生讨论后回答。}
\mRP{V22}{1874}{6015}{学生1回答说：“含羞草的叶子被碰到后，它会合起来。”}
\mRP{V23}{1874}{6083}{学生2回答说：“生物还能对外界刺激发生反应。例如，人用苍蝇拍打苍蝇，苍蝇会立即飞走。”}
\mRN{V24}{1874}{6144}{学生3回答说：“狗看到骨头就会流口水。”}
\mRP{V25}{1874}{6232}{师：这些都属于应激性。教师补充说明含羞草的叶子合起并垂下，其实是在保护叶片。让学生用手碰一下盆栽含羞草的叶子，亲自感受一下。继续说明多数情况下动物的应激性比较明显，植物的应激性大多表现在向光生长、向地生长和向水生长等方面。继续让学生思考生物还有哪些特性。}
\mRP{V26}{1874}{6335}{师：出示I-8在在生长的蘑菇和I-9种子的萌发图片，以及I-10图学生讨论。生：学生讨论后回答。}
\mRN{V27}{1874}{6396}{学生1回答说：“生物体可以从小长大。”}
\mRN{V28}{1874}{6443}{学生2回答说：“生物还可以繁殖。”}
\mRP{V29}{1874}{6504}{师：接着启发学生思考生物还有哪些繁殖方式。想一想动物、植物、细菌怎样繁殖。生：学生思考后回答。}
\mRP{V30}{1874}{6621}{从同学们的叙述中，不仅可以看到生物之间传递信息这一本领，还可以看出生物适应环境这一本领。另外生物也能影响环境。例如，植被可以保持水土，增加大气湿度，从而可以减少沙尘暴的发生，改善空气质量。接着鼓励学生多观察生物，从而得出更多更新颖的建议。请学生思考：自己是否也有这些特征?任举一种你熟悉的生物，它也有这些特征吗?生：学生思考后回答。}
\mRP{V31}{1874}{6743}{学生回答说：“有。例如，图片中的猎豹，它有情感，也要呼吸，也要营养，也有对外界刺激作出反应的能力，遇到情况会声音来传递信息，也能从小长大并繁殖后代。”}
\foreach \i in {1,...,31} {\cRC{T2}{V\i}{1862}}

\mRP{W1}{1781}{6839}{师：我们留意了这么多生命现象，相信你们一定会利用这些生物的特征去判断一个物体是否是生物了吧。我们来练习一下。教师打出课本第6页的图片，让学生指出图中钟乳石、珊瑚和珊瑚虫，哪个是生物，为什么?}
\mRN{W2}{1781}{6915}{生：学生讨论后回答。}
\mRP{W3}{1781}{6976}{珊瑚虫是生物，因为只有它具备了生物的特征，具有生命。而钟乳石和珊瑚是没有生物特征的。}
\mRP{W4}{1781}{7043}{师：教师小结：学完这节课后，你们该知道什么是生物了吧?}
\mRP{W5}{1781}{7131}{生：学完这节课后，我知道了什么是生物，凡是具有生命的物体都是生物。它们都具有共同的结构基础，都要进行一系列的生理活动：需要呼吸，需要营养，进行新陈代谢，有生老病死，有传递信息的本领，活动有规律性，可以适应环境，还可以影响环境……}
\mRP{W6}{1781}{7227}{师：今天我们接触到这么多的小生命，看到它们的生命现象，你还认为路旁的一棵树，道边的一朵花，都是那么微不足道吗?}
\mRN{W7}{1781}{7288}{生：不是，它们都有生命。}
\mRP{W8}{1781}{7342}{师：那么我们应该怎样去对待那些具有生命的物体呢?}
\mRP{W9}{1781}{7403}{生：我们应该热爱和保护那些生命，让我们的世界变得更加丰富多彩。}
\foreach \i in {1,...,9} {\cRC{S5}{W\i}{1769}}

% ================= 相关文章 =================
\mRN{X1}{1676}{7457}{★ 人教版八年级生物上册复习教案5篇}
\mRN{X2}{1676}{7504}{★ 关于八年级上册生物教学计划与实施5篇}
\mRN{X3}{1676}{7552}{★ 关于生物人教版八上教学计划5篇}
\mRN{X4}{1676}{7600}{★ 初中生物八年级上册教学总结及反思5篇}
\mRN{X5}{1676}{7654}{★ 人教版语文八年级上册复习的教案文档参\\考五篇}
\mRN{X6}{1676}{7708}{★ 八年级上生物个人教学计划和实施过程5篇}
\mRN{X7}{1676}{7755}{★ 八年级生物学科网教学计划5篇}
\mRN{X8}{1676}{7803}{★ 关于八年级生物网课教学计划}
\mRN{X9}{1676}{7850}{★ 人教版八年级上册精编五篇教案2021年}
\mRN{X10}{1676}{7897}{★ 有关初二生物教学计划}
\foreach \i in {1,...,10} {\cRM{B6}{X\i}}

% ---------- background: page and root curves ----------
\begin{scope}[on background layer]
\fill[white] (0,0) rectangle (2560,7955);
\draw[rootc] (R.center) .. controls +(-100,0) and +(70,0) .. (B1.east);
\draw[rootc] (R.center) .. controls +(-100,0) and +(70,0) .. (B3.east);
\draw[rootc] (R.center) .. controls +(-100,0) and +(70,0) .. (B5.east);
\draw[rootc] (R.center) .. controls +(100,0) and +(-70,0) .. (B2.west);
\draw[rootc] (R.center) .. controls +(100,0) and +(-70,0) .. (B4.west);
\draw[rootc] (R.center) .. controls +(100,0) and +(-70,0) .. (B6.west);
\draw[rootc] (R.center) .. controls +(100,0) and +(-70,0) .. (BB.west);
\end{scope}
\end{tikzpicture}
\end{document}
